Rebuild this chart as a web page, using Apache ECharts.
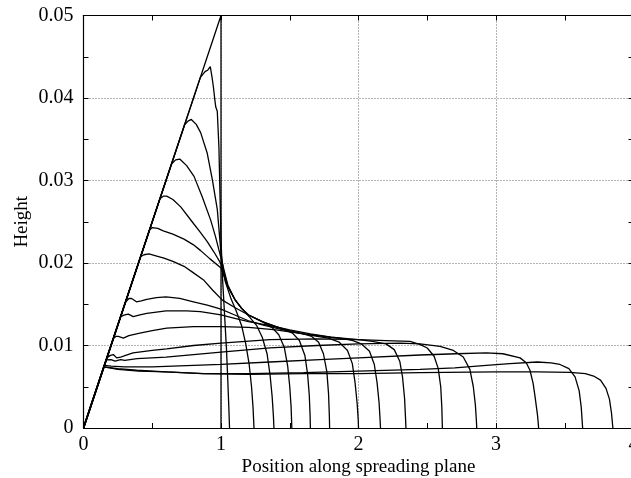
<!DOCTYPE html>
<html><head><meta charset="utf-8">
<script src="https://cdn.jsdelivr.net/npm/echarts@6/dist/echarts.min.js"></script>
<style>html,body{margin:0;padding:0;background:#fff}#c{width:631px;height:478px}</style>
</head><body><div id="c"></div>
<script>
// ---- data ----
const xTickLabels = ['0','1','2','3','4'];
const yTickLabels = ['0','0.01','0.02','0.03','0.04','0.05'];
const xLabel = 'Position along spreading plane';
const yLabel = 'Height';

const triangle = [[0,0],[1,0.05],[1,0]];
const curve1 = [[0,0],[0.85,0.0425],[0.884,0.0432],[0.905,0.0434],[0.922,0.0438],[0.935,0.0425],[0.945,0.0413],[0.955,0.0398],[0.962,0.0389],[0.973,0.0384],[0.985,0.0340],[0.993,0.0280],[1.0,0.0230],[1.01,0.0185],[1.025,0.0140],[1.04,0.0095],[1.05,0.0055],[1.057,0.0025],[1.062,0]];
const curve2 = [[0,0],[0.735,0.03675],[0.76,0.0372],[0.784,0.0374],[0.82,0.0368],[0.852,0.0358],[0.9,0.0333],[0.937,0.0301],[0.973,0.0265],[1.0,0.0212],[1.03,0.0178],[1.07,0.0158],[1.11,0.0142],[1.15,0.0124],[1.18,0.0102],[1.205,0.0077],[1.222,0.0050],[1.233,0.0025],[1.24,0]];
const curve3 = [[0,0],[0.64,0.032],[0.67,0.0325],[0.7,0.0326],[0.75,0.0318],[0.804,0.0305],[0.864,0.0280],[0.925,0.0252],[0.96,0.0232],[1.0,0.0206],[1.05,0.0173],[1.1,0.0156],[1.15,0.0145],[1.2,0.0136],[1.26,0.0124],[1.3,0.0110],[1.335,0.0090],[1.357,0.0064],[1.372,0.0038],[1.381,0.0015],[1.385,0]];
const curve4 = [[0,0],[0.556,0.0278],[0.58,0.0281],[0.605,0.0281],[0.65,0.0277],[0.707,0.0268],[0.79,0.0250],[0.85,0.0237],[0.9,0.0226],[0.95,0.0213],[1.0,0.0199],[1.05,0.0172],[1.1,0.0156],[1.15,0.0145],[1.2,0.0137],[1.3,0.0129],[1.37,0.0122],[1.42,0.0113],[1.46,0.0098],[1.485,0.0075],[1.5,0.0050],[1.51,0.0025],[1.515,0]];
const curve5 = [[0,0],[0.465,0.02325],[0.48,0.0240],[0.5,0.0243],[0.54,0.0242],[0.58,0.0239],[0.65,0.0235],[0.731,0.0229],[0.8,0.0222],[0.852,0.0215],[0.92,0.0205],[1.0,0.0194],[1.05,0.0171],[1.1,0.0156],[1.15,0.0145],[1.2,0.0137],[1.3,0.0129],[1.4,0.0123],[1.45,0.0120],[1.52,0.0115],[1.57,0.0106],[1.61,0.0088],[1.63,0.0065],[1.642,0.0040],[1.648,0.0015],[1.65,0]];
const curve6 = [[0,0],[0.415,0.02075],[0.44,0.0210],[0.476,0.0211],[0.52,0.0209],[0.585,0.0206],[0.65,0.0202],[0.731,0.0196],[0.8,0.0188],[0.876,0.0179],[0.94,0.0167],[1.01,0.0155],[1.1,0.0146],[1.2,0.0137],[1.3,0.0129],[1.4,0.0123],[1.5,0.0118],[1.6,0.0114],[1.66,0.0111],[1.71,0.0104],[1.745,0.0090],[1.77,0.0068],[1.782,0.0042],[1.788,0.0015],[1.79,0]];
const curve7 = [[0,0],[0.305,0.01525],[0.33,0.0157],[0.35,0.0157],[0.385,0.0153],[0.42,0.0154],[0.46,0.0156],[0.53,0.0158],[0.6,0.0159],[0.7,0.0157],[0.8,0.0153],[0.9,0.0149],[1.0,0.0144],[1.1,0.0137],[1.2,0.0130],[1.3,0.0125],[1.4,0.0121],[1.5,0.0117],[1.6,0.0114],[1.7,0.0111],[1.78,0.0109],[1.86,0.0104],[1.92,0.0094],[1.955,0.0078],[1.975,0.0055],[1.99,0.0030],[1.998,0.0010],[2.0,0]];
const curve8 = [[0,0],[0.27,0.0135],[0.3,0.0137],[0.326,0.0138],[0.362,0.0135],[0.41,0.0137],[0.46,0.0139],[0.6,0.0142],[0.75,0.0142],[0.85,0.0141],[1.0,0.0137],[1.1,0.0133],[1.2,0.0129],[1.356,0.0124],[1.5,0.0119],[1.65,0.0114],[1.8,0.0110],[1.9,0.0108],[1.96,0.0106],[2.02,0.0102],[2.08,0.0093],[2.115,0.0077],[2.135,0.0055],[2.15,0.0030],[2.157,0.0010],[2.16,0]];
const curve9 = [[0,0],[0.217,0.01085],[0.235,0.0111],[0.253,0.0111],[0.29,0.0109],[0.33,0.0112],[0.41,0.0115],[0.5,0.0118],[0.605,0.0121],[0.8,0.0123],[1.0,0.0123],[1.2,0.0122],[1.4,0.0119],[1.6,0.0114],[1.8,0.0110],[2.0,0.0107],[2.1,0.0105],[2.2,0.0102],[2.26,0.0095],[2.3,0.0081],[2.32,0.0062],[2.335,0.0036],[2.342,0.0012],[2.345,0]];
const curve10 = [[0,0],[0.17,0.0085],[0.195,0.0088],[0.217,0.0089],[0.241,0.0085],[0.27,0.0086],[0.29,0.0087],[0.36,0.0091],[0.5,0.0094],[0.605,0.0096],[0.8,0.0100],[1.0,0.0103],[1.356,0.0107],[1.7,0.0108],[2.0,0.0107],[2.2,0.0106],[2.375,0.0105],[2.45,0.0101],[2.5,0.0097],[2.55,0.0087],[2.58,0.0072],[2.598,0.0050],[2.606,0.0025],[2.61,0]];
const curve11 = [[0,0],[0.165,0.00825],[0.2,0.0083],[0.23,0.0081],[0.27,0.0083],[0.3,0.0082],[0.39,0.0084],[0.6,0.0086],[0.8,0.0089],[1.0,0.0092],[1.356,0.0097],[1.7,0.0100],[2.0,0.0102],[2.3,0.0103],[2.447,0.0102],[2.593,0.0099],[2.69,0.0094],[2.762,0.0086],[2.81,0.0071],[2.835,0.0050],[2.85,0.0028],[2.857,0.0010],[2.86,0]];
const curve12 = [[0,0],[0.152,0.0076],[0.2,0.0075],[0.3,0.0074],[0.5,0.0074],[0.8,0.0076],[1.0,0.0077],[1.356,0.0080],[1.72,0.0083],[2.0,0.0085],[2.447,0.00885],[2.71,0.0090],[2.93,0.0091],[3.05,0.0090],[3.175,0.0085],[3.22,0.0079],[3.247,0.0070],[3.27,0.0054],[3.284,0.0038],[3.303,0.0014],[3.31,0]];
const curve13 = [[0,0],[0.148,0.0074],[0.25,0.0072],[0.387,0.0070],[0.6,0.0068],[0.871,0.0066],[1.2,0.0066],[1.6,0.0067],[2.0,0.0069],[2.447,0.0071],[2.7,0.0073],[2.93,0.0076],[3.1,0.0078],[3.3,0.0080],[3.4,0.0079],[3.465,0.0077],[3.53,0.0072],[3.575,0.0062],[3.605,0.0045],[3.62,0.0025],[3.63,0]];
const curve14 = [[0,0],[0.148,0.0074],[0.25,0.0071],[0.4,0.0069],[0.6,0.0068],[0.87,0.0066],[1.2,0.0065],[1.6,0.0066],[2.0,0.0066],[2.45,0.00672],[3.0,0.0068],[3.3,0.0068],[3.54,0.00675],[3.65,0.0066],[3.71,0.0063],[3.76,0.0058],[3.8,0.0048],[3.825,0.0035],[3.84,0.0018],[3.85,0]];

const profiles = [triangle, curve1, curve2, curve3, curve4, curve5, curve6, curve7,
                  curve8, curve9, curve10, curve11, curve12, curve13, curve14];

// ---- chart ----
const FONT = '"Liberation Serif", "Times New Roman", serif';
const chart = echarts.init(document.getElementById('c'), null, {renderer: 'canvas'});
const tickCommon = {inside: true, length: 5, lineStyle: {color: '#000', width: 1}};
const minorCommon = {show: true, splitNumber: 2, length: 5, lineStyle: {color: '#000', width: 1}};
const gridLine = {show: true, showMinLine: false, showMaxLine: false,
                  lineStyle: {type: [1, 2], color: '#666', width: 1}};
const border = {show: true, onZero: false, lineStyle: {color: '#000', width: 1.2}};

chart.setOption({
  animation: false,
  backgroundColor: '#fff',
  grid: {left: 83.5, top: 15.5, width: 550, height: 412.5, containLabel: false, outerBoundsMode: 'none'},
  xAxis: [{
    type: 'value', min: 0, max: 4, interval: 1, position: 'bottom',
    axisLine: border,
    axisTick: tickCommon, minorTick: minorCommon,
    splitLine: gridLine,
    axisLabel: {color: '#000', fontFamily: FONT, fontSize: 20, margin: 7,
                formatter: (v) => xTickLabels[Math.round(v)]},
    name: xLabel, nameLocation: 'middle', nameGap: 30, nameMoveOverlap: false,
    nameTextStyle: {color: '#000', fontFamily: FONT, fontSize: 19}
  }, {
    type: 'value', min: 0, max: 4, interval: 1, position: 'top',
    axisLine: border,
    axisTick: tickCommon, minorTick: minorCommon,
    splitLine: {show: false}, axisLabel: {show: false}
  }],
  yAxis: [{
    type: 'value', min: 0, max: 0.05, interval: 0.01, position: 'left',
    axisLine: border,
    axisTick: tickCommon, minorTick: minorCommon,
    splitLine: gridLine,
    axisLabel: {color: '#000', fontFamily: FONT, fontSize: 20, margin: 10,
                formatter: (v) => yTickLabels[Math.round(v * 100)]},
    name: yLabel, nameLocation: 'middle', nameGap: 52, nameRotate: 90, nameMoveOverlap: false,
    nameTextStyle: {color: '#000', fontFamily: FONT, fontSize: 19}
  }, {
    type: 'value', min: 0, max: 0.05, interval: 0.01, position: 'right',
    axisLine: border,
    axisTick: tickCommon, minorTick: minorCommon,
    splitLine: {show: false}, axisLabel: {show: false}
  }],
  series: profiles.map((d, i) => ({
    type: 'line', xAxisIndex: 0, yAxisIndex: 0, data: d,
    showSymbol: false, symbol: 'none', smooth: false, clip: true,
    lineStyle: {color: '#000', width: 1.3}, silent: true, z: 3
  }))
});
</script></body></html>
